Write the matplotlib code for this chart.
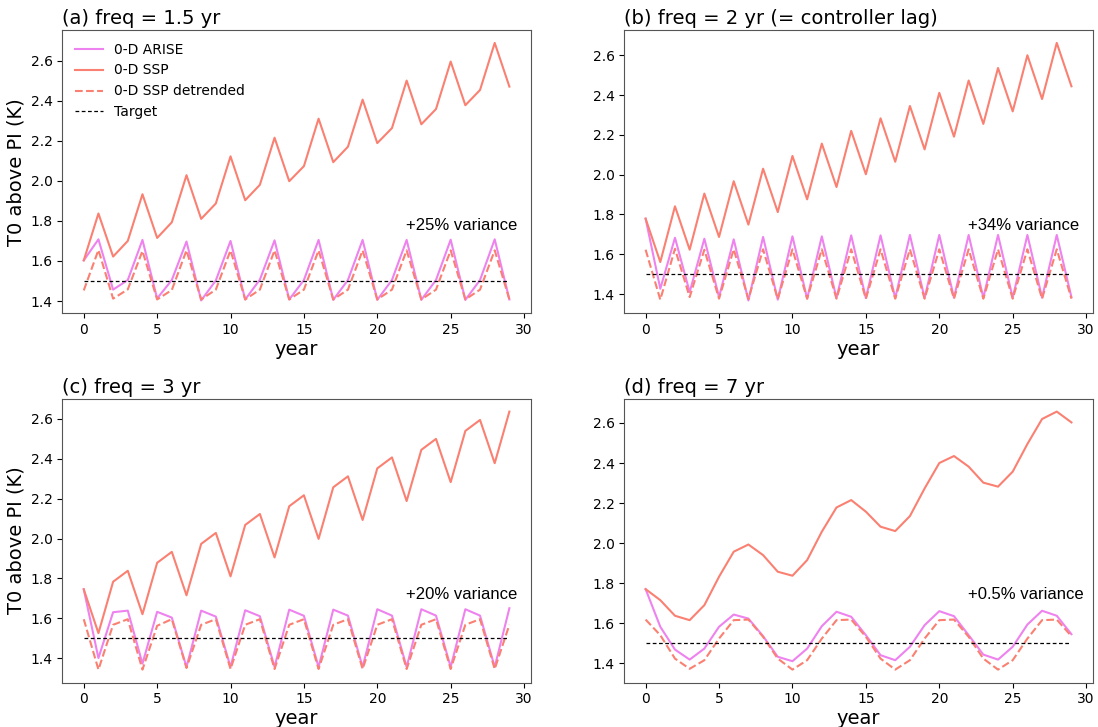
import numpy as np
import matplotlib
matplotlib.use('Agg')
import matplotlib.pyplot as plt

years = np.arange(30)
target = 1.5

titles = ['(a) freq = 1.5 yr', '(b) freq = 2 yr (= controller lag)',
          '(c) freq = 3 yr', '(d) freq = 7 yr']
variance_labels = ['+25% variance', '+34% variance', '+20% variance', '+0.5% variance']

# (a) freq = 1.5 yr
ssp_a = [1.603, 1.837, 1.622, 1.700, 1.933, 1.715, 1.793, 2.028, 1.810, 1.887,
         2.122, 1.903, 1.980, 2.215, 1.998, 2.073, 2.310, 2.093, 2.170, 2.405,
         2.188, 2.263, 2.500, 2.282, 2.358, 2.595, 2.377, 2.453, 2.688, 2.470]
arise_a = [1.603, 1.708, 1.457, 1.505, 1.705, 1.413, 1.505, 1.697, 1.403, 1.503,
           1.700, 1.408, 1.507, 1.703, 1.408, 1.505, 1.705, 1.406, 1.505, 1.705,
           1.406, 1.505, 1.705, 1.406, 1.505, 1.706, 1.406, 1.505, 1.708, 1.408]
detr_a = [1.453, 1.655, 1.412, 1.458, 1.650, 1.408, 1.455, 1.653, 1.408, 1.457,
          1.653, 1.408, 1.457, 1.653, 1.408, 1.457, 1.653, 1.408, 1.457, 1.653,
          1.408, 1.457, 1.653, 1.408, 1.457, 1.653, 1.408, 1.457, 1.653, 1.408]

# (b) freq = 2 yr
ssp_b = [1.779, 1.561, 1.841, 1.623, 1.905, 1.687, 1.967, 1.749, 2.030, 1.812,
         2.094, 1.876, 2.156, 1.938, 2.220, 2.002, 2.283, 2.065, 2.345, 2.127,
         2.411, 2.191, 2.473, 2.255, 2.536, 2.318, 2.600, 2.380, 2.662, 2.444]
arise_b = [1.779, 1.427, 1.683, 1.410, 1.678, 1.385, 1.675, 1.368, 1.687, 1.372,
           1.690, 1.377, 1.690, 1.380, 1.695, 1.380, 1.695, 1.380, 1.697, 1.380,
           1.697, 1.382, 1.697, 1.382, 1.697, 1.382, 1.697, 1.382, 1.697, 1.385]
detr_b = [1.623, 1.372, 1.628, 1.385, 1.623, 1.377, 1.625, 1.375, 1.625, 1.375,
          1.625, 1.377, 1.625, 1.377, 1.625, 1.377, 1.625, 1.377, 1.625, 1.377,
          1.625, 1.377, 1.625, 1.377, 1.625, 1.377, 1.625, 1.377, 1.625, 1.377]

# (c) freq = 3 yr
ssp_c = [1.745, 1.525, 1.783, 1.838, 1.620, 1.878, 1.933, 1.715, 1.973, 2.028,
         1.810, 2.068, 2.123, 1.905, 2.162, 2.217, 1.998, 2.257, 2.312, 2.093,
         2.352, 2.407, 2.188, 2.445, 2.500, 2.283, 2.540, 2.595, 2.378, 2.637]
arise_c = [1.745, 1.400, 1.630, 1.638, 1.372, 1.632, 1.603, 1.355, 1.638, 1.608,
           1.355, 1.640, 1.610, 1.355, 1.643, 1.612, 1.355, 1.643, 1.613, 1.355,
           1.645, 1.613, 1.355, 1.645, 1.613, 1.355, 1.645, 1.613, 1.355, 1.650]
detr_c = [1.595, 1.342, 1.567, 1.595, 1.342, 1.562, 1.595, 1.350, 1.567, 1.595,
          1.345, 1.567, 1.595, 1.345, 1.567, 1.595, 1.345, 1.567, 1.595, 1.345,
          1.567, 1.595, 1.345, 1.567, 1.595, 1.345, 1.567, 1.595, 1.345, 1.567]

# (d) freq = 7 yr
ssp_d = [1.770, 1.715, 1.637, 1.615, 1.690, 1.832, 1.957, 1.993, 1.940, 1.857,
         1.837, 1.915, 2.057, 2.178, 2.215, 2.157, 2.082, 2.060, 2.135, 2.273,
         2.400, 2.435, 2.382, 2.302, 2.282, 2.357, 2.495, 2.620, 2.657, 2.603]
arise_d = [1.770, 1.582, 1.468, 1.418, 1.473, 1.582, 1.643, 1.623, 1.535, 1.432,
           1.410, 1.473, 1.585, 1.657, 1.632, 1.540, 1.440, 1.415, 1.482, 1.590,
           1.660, 1.635, 1.540, 1.443, 1.418, 1.482, 1.593, 1.662, 1.637, 1.545]
detr_d = [1.618, 1.540, 1.423, 1.372, 1.415, 1.523, 1.615, 1.618, 1.532, 1.423,
          1.368, 1.415, 1.523, 1.615, 1.618, 1.532, 1.423, 1.368, 1.415, 1.523,
          1.615, 1.618, 1.532, 1.423, 1.368, 1.415, 1.523, 1.615, 1.618, 1.535]

ssp_all = [ssp_a, ssp_b, ssp_c, ssp_d]
arise_all = [arise_a, arise_b, arise_c, arise_d]
detr_all = [detr_a, detr_b, detr_c, detr_d]

fig = plt.figure(figsize=(10.98, 7.27), dpi=100)
positions = [[0.0569, 0.569, 0.4264, 0.3897],
             [0.5686, 0.569, 0.4266, 0.3897],
             [0.0569, 0.0612, 0.4264, 0.3904],
             [0.5686, 0.0612, 0.4266, 0.3904]]

for k in range(4):
    ax = fig.add_axes(positions[k])
    ax.plot(years, arise_all[k], color='violet', lw=1.5, label='0-D ARISE')
    ax.plot(years, ssp_all[k], color='salmon', lw=1.5, label='0-D SSP')
    ax.plot(years, detr_all[k], color='salmon', lw=1.5, ls='--', label='0-D SSP detrended')
    ax.plot(years, [target] * len(years), color='k', lw=0.9, ls=(0, (3, 2)), label='Target')
    ax.set_title(titles[k], loc='left', fontsize=14, pad=4)
    ax.set_xlabel('year', fontsize=14, labelpad=2)
    if k % 2 == 0:
        ax.set_ylabel('T0 above PI (K)', fontsize=14)
    ax.tick_params(labelsize=10)
    ax.set_xticks([0, 5, 10, 15, 20, 25, 30])
    ax.set_xlim(-1.45, 30.45)
    for s in ax.spines.values():
        s.set_color('#555555')
    ax.text(0.733, 0.295, variance_labels[k], transform=ax.transAxes,
            fontsize=12, family='Liberation Sans')
    if k == 0:
        ax.legend(loc='upper left', frameon=False, fontsize=10)

plt.savefig('out.png', dpi=100)
